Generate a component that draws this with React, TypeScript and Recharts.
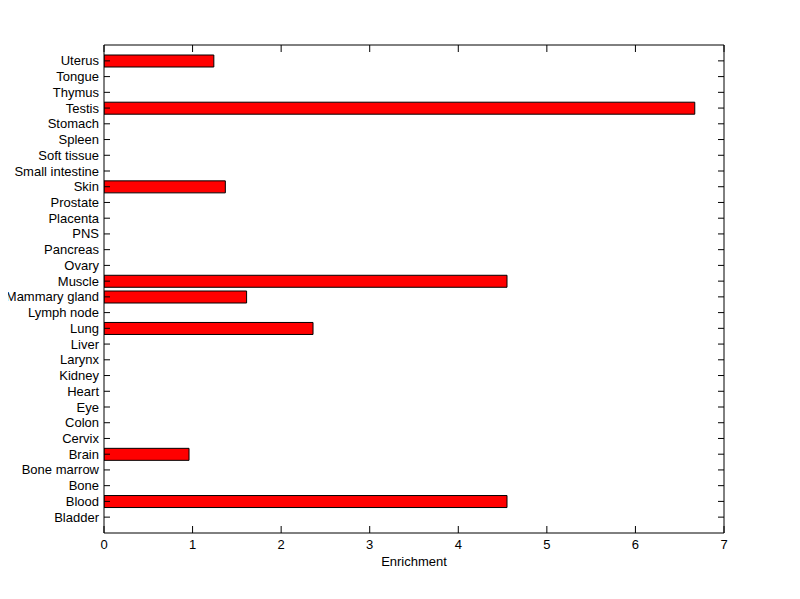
import { Bar, BarChart, XAxis, YAxis } from "recharts";

const tissues = [
  "Uterus", "Tongue", "Thymus", "Testis", "Stomach", "Spleen", "Soft tissue",
  "Small intestine", "Skin", "Prostate", "Placenta", "PNS", "Pancreas", "Ovary",
  "Muscle", "Mammary gland", "Lymph node", "Lung", "Liver", "Larynx", "Kidney",
  "Heart", "Eye", "Colon", "Cervix", "Brain", "Bone marrow", "Bone", "Blood", "Bladder",
];

const enrichment = [
  1.24, 0, 0, 6.67, 0, 0, 0,
  0, 1.37, 0, 0, 0, 0, 0,
  4.55, 1.61, 0, 2.36, 0, 0, 0,
  0, 0, 0, 0, 0.96, 0, 0, 4.55, 0,
];

const xTicks = [0, 1, 2, 3, 4, 5, 6, 7];

const data = tissues.map((name, i) => ({ name, value: enrichment[i] }));

const FONT = "'Liberation Sans', Arial, sans-serif";

// ticks drawn by hand: matlab style, pointing into the plot
function LeftTick({ x, y, payload }: any) {
  return (
    <g>
      <line x1={x} x2={x + 6} y1={y} y2={y} stroke="#000" />
      <text x={x - 5} y={y + 4.5} textAnchor="end" fontFamily={FONT} fontSize={13} fill="#000">
        {payload.value}
      </text>
    </g>
  );
}

function RightTick({ x, y }: any) {
  return <line x1={x - 6} x2={x} y1={y} y2={y} stroke="#000" />;
}

function BottomTick({ x, y, payload }: any) {
  return (
    <g>
      <line x1={x} x2={x} y1={y} y2={y - 7} stroke="#000" />
      <text x={x} y={y + 16} textAnchor="middle" fontFamily={FONT} fontSize={13} fill="#000">
        {payload.value}
      </text>
    </g>
  );
}

function TopTick({ x, y }: any) {
  return <line x1={x} x2={x} y1={y} y2={y + 7} stroke="#000" />;
}

export default function App() {
  return (
    <div style={{ position: "relative", left: -8, top: -8, width: 800, height: 599 }}>
      <BarChart
        width={800}
        height={599}
        data={data}
        layout="vertical"
        margin={{ top: 35, right: 66, bottom: 26, left: 0 }}
        barCategoryGap={0}
      >
        <XAxis
          type="number"
          domain={[0, 7]}
          ticks={xTicks}
          allowDataOverflow
          height={40}
          tickSize={0}
          tickMargin={0}
          tickLine={false}
          tick={<BottomTick />}
          axisLine={{ stroke: "#000" }}
          label={{ value: "Enrichment", position: "insideBottom", offset: 7, fontFamily: FONT, fontSize: 13, fill: "#000" }}
        />
        <XAxis
          xAxisId="top"
          orientation="top"
          type="number"
          domain={[0, 7]}
          ticks={xTicks}
          allowDataOverflow
          height={10}
          tickSize={0}
          tickMargin={0}
          tickLine={false}
          tick={<TopTick />}
          axisLine={{ stroke: "#000" }}
        />
        <YAxis
          type="category"
          dataKey="name"
          width={104}
          interval={0}
          padding={{ top: 8, bottom: 8 }}
          tickSize={0}
          tickMargin={0}
          tickLine={false}
          tick={<LeftTick />}
          axisLine={{ stroke: "#000" }}
        />
        <YAxis
          yAxisId="right"
          orientation="right"
          type="category"
          dataKey="name"
          width={10}
          interval={0}
          padding={{ top: 8, bottom: 8 }}
          tickSize={0}
          tickMargin={0}
          tickLine={false}
          tick={<RightTick />}
          axisLine={{ stroke: "#000" }}
        />
        <Bar dataKey="value" fill="#ff0000" stroke="#000" strokeWidth={1} barSize={12} isAnimationActive={false} />
      </BarChart>
    </div>
  );
}
